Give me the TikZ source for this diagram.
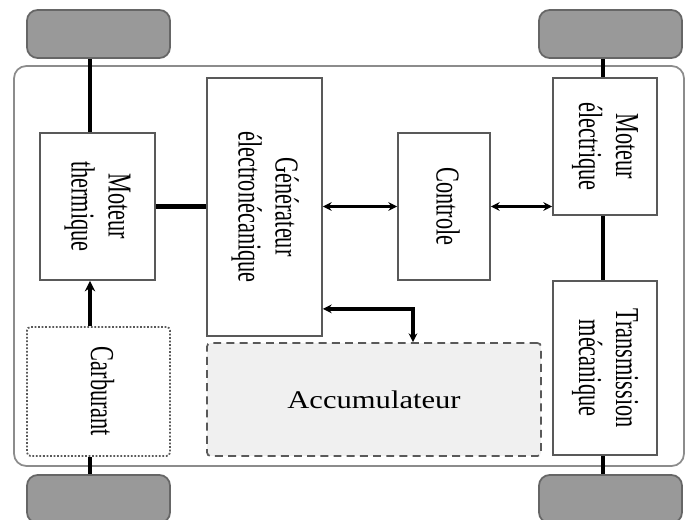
\documentclass[tikz,border=0pt]{standalone}
\usepackage{graphicx}
\usepackage{fontspec}
\setmainfont{Liberation Serif}
\usetikzlibrary{positioning,arrows.meta,calc}
\newcommand{\vtexte}[1]{\rotatebox{-90}{\scalebox{1}[1.5]{\begin{tabular}{@{}c@{}}#1\end{tabular}}}}
\tikzset{
  boite/.style={rectangle, draw=black!65, line width=1pt, fill=white, inner sep=0pt,
    font=\fontsize{12.7}{14}\selectfont},
  roue/.style={rectangle, rounded corners=6pt, draw=black!60, line width=1pt, fill=black!40,
    minimum width=2.86cm, minimum height=0.96cm},
  cadre/.style={draw=black!45, line width=1pt, rounded corners=7pt, fill=white},
  axe/.style={line width=2.4pt, draw=black},
  fleche/.style={-{Stealth[length=6pt,width=6pt]}, line width=2.4pt},
  dfleche/.style={{Stealth[length=5pt,width=5pt]}-{Stealth[length=5pt,width=5pt]}, line width=1.8pt},
}
\begin{document}
\begin{tikzpicture}[x=0.02cm, y=-0.02cm]
  \useasboundingbox (0,0) rectangle (686,520);
  \draw[cadre] (14,66) rectangle (684,466);
  % roues
  \node[roue] (rhg) at (98.5,34) {};
  \node[roue] (rhd) at (610.5,34) {};
  \node[roue] (rbg) at (98.5,499) {};
  \node[roue] (rbd) at (610.5,499) {};
  \coordinate (xg) at (90,0);
  \coordinate (xd) at (603,0);
  % blocs
  \node[boite, minimum width=2.3cm, minimum height=2.94cm] (mt) at (97.5,206.5)
    {\vtexte{Moteur\\thermique}};
  \node[boite, minimum width=2.3cm, minimum height=5.16cm] (gen) at (264.5,207)
    {\vtexte{Générateur\\électronécanique}};
  \node[boite, minimum width=1.84cm, minimum height=2.94cm] (ctl) at (444,206.5)
    {\vtexte{Controle}};
  \node[boite, minimum width=2.08cm, minimum height=2.74cm] (me) at (605,146.5)
    {\vtexte{Moteur\\électrique}};
  \node[boite, minimum width=2.08cm, minimum height=3.48cm] (tm) at (605,368)
    {\vtexte{Transmission\\mécanique}};
  \node[boite, densely dotted, rounded corners=2pt, minimum width=2.86cm, minimum height=2.58cm]
    (carb) at (98.5,391.5) {\vtexte{Carburant}};
  \node[boite, dash pattern=on 4.5pt off 3pt, rounded corners=2pt, fill=black!6,
    minimum width=6.68cm, minimum height=2.26cm, font=\fontsize{14.5}{16}\selectfont]
    (acc) at (374,399.5) {\scalebox{1.2}[1]{Accumulateur}};
  % liaisons
  \draw[axe] (mt.north -| xg) -- (rhg.south -| xg);
  \draw[axe] (carb.south -| xg) -- (rbg.north -| xg);
  \draw[fleche] (carb.north -| xg) -- (mt.south -| xg);
  \draw[axe] (mt.east) -- (mt.east -| gen.west);
  \draw[dfleche] (ctl.west -| gen.east) -- (ctl.west);
  \draw[dfleche] (ctl.east) -- (ctl.east -| me.west);
  \draw[axe] (me.north -| xd) -- (rhd.south -| xd);
  \draw[axe] (me.south -| xd) -- (tm.north -| xd);
  \draw[axe] (tm.south -| xd) -- (rbd.north -| xd);
  \draw[dfleche, line width=2.2pt] ([yshift=0.56cm]gen.south east) -| ([xshift=0.78cm]acc.north);
\end{tikzpicture}
\end{document}
